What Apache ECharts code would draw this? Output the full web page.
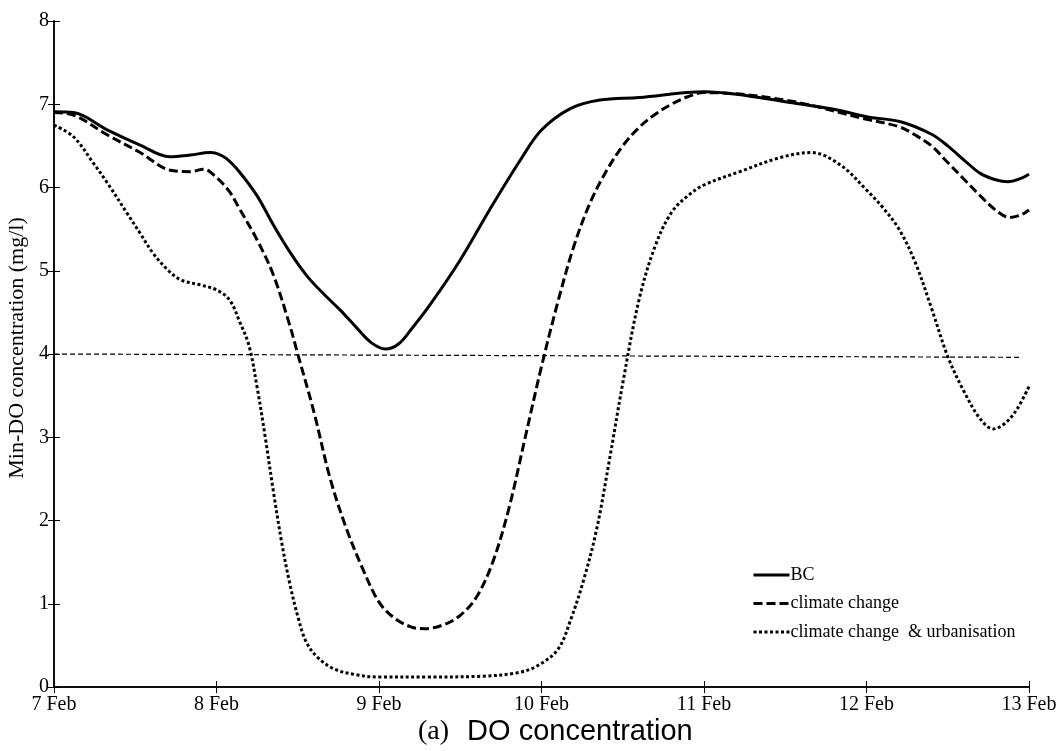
<!DOCTYPE html>
<html>
<head>
<meta charset="utf-8">
<script src="https://cdn.jsdelivr.net/npm/echarts@6/dist/echarts.min.js"></script>
<style>html,body{margin:0;padding:0;background:#fff}#c{width:1061px;height:751px}</style>
</head>
<body>
<div id="c"></div>
<script>
// x values: days after 7 Feb
const xTickLabels = ['7 Feb', '8 Feb', '9 Feb', '10 Feb', '11 Feb', '12 Feb', '13 Feb'];
const seriesNames = ['BC', 'climate change', 'climate change  & urbanisation'];

const bcX = [0, 0.12, 0.33, 0.53, 0.71, 0.84, 0.96, 1.0, 1.06, 1.14, 1.25, 1.35, 1.46, 1.56, 1.66, 1.76, 1.86, 1.95, 2.04, 2.12, 2.2, 2.31, 2.5, 2.68, 2.87, 3.0, 3.18, 3.36, 3.6, 4.0, 4.2, 4.5, 4.8, 5.0, 5.21, 5.4, 5.5, 5.6, 5.7, 5.8, 5.87, 5.95, 6.0];
const bcY = [6.91, 6.9, 6.69, 6.51, 6.37, 6.39, 6.42, 6.41, 6.35, 6.19, 5.9, 5.55, 5.2, 4.93, 4.72, 4.53, 4.32, 4.14, 4.06, 4.12, 4.3, 4.58, 5.13, 5.73, 6.33, 6.69, 6.95, 7.05, 7.08, 7.15, 7.12, 7.03, 6.94, 6.85, 6.79, 6.64, 6.5, 6.33, 6.17, 6.09, 6.07, 6.11, 6.16];

const ccX = [0, 0.12, 0.33, 0.53, 0.71, 0.84, 0.92, 1.0, 1.08, 1.14, 1.25, 1.35, 1.45, 1.5, 1.6, 1.7, 1.8, 1.9, 2.0, 2.1, 2.2, 2.28, 2.4, 2.5, 2.6, 2.7, 2.8, 2.9, 3.0, 3.1, 3.2, 3.3, 3.4, 3.5, 3.6, 3.7, 3.8, 3.9, 4.0, 4.5, 5.0, 5.2, 5.3, 5.4, 5.5, 5.6, 5.7, 5.8, 5.88, 5.95, 6.0];
const ccY = [6.9, 6.87, 6.63, 6.42, 6.21, 6.19, 6.22, 6.12, 5.95, 5.75, 5.37, 4.95, 4.35, 4.0, 3.3, 2.5, 1.9, 1.42, 1.02, 0.82, 0.72, 0.7, 0.75, 0.86, 1.08, 1.5, 2.15, 3.0, 3.85, 4.62, 5.3, 5.82, 6.2, 6.5, 6.72, 6.88, 7.0, 7.09, 7.14, 7.05, 6.82, 6.73, 6.63, 6.5, 6.3, 6.1, 5.9, 5.72, 5.64, 5.67, 5.73];

const cuX = [0, 0.12, 0.24, 0.33, 0.45, 0.53, 0.61, 0.7, 0.78, 0.9, 1.0, 1.08, 1.14, 1.2, 1.25, 1.3, 1.35, 1.4, 1.45, 1.5, 1.55, 1.62, 1.72, 1.85, 2.0, 2.3, 2.64, 2.85, 2.97, 3.1, 3.18, 3.26, 3.34, 3.42, 3.5, 3.6, 3.7, 3.8, 3.9, 4.0, 4.22, 4.47, 4.66, 4.84, 5.0, 5.1, 5.2, 5.3, 5.4, 5.5, 5.6, 5.7, 5.78, 5.86, 5.93, 6.0];
const cuY = [6.75, 6.61, 6.3, 6.05, 5.69, 5.45, 5.21, 5.01, 4.89, 4.83, 4.77, 4.65, 4.4, 4.1, 3.6, 3.0, 2.35, 1.75, 1.25, 0.85, 0.55, 0.36, 0.22, 0.15, 0.12, 0.12, 0.13, 0.17, 0.25, 0.45, 0.81, 1.29, 1.9, 2.75, 3.65, 4.65, 5.3, 5.7, 5.9, 6.03, 6.19, 6.36, 6.42, 6.27, 5.97, 5.76, 5.5, 5.1, 4.55, 3.97, 3.55, 3.22, 3.1, 3.18, 3.35, 3.61];

const thresholdX = [0, 5.95];
const thresholdY = [4.0, 3.96];

const zip = (xs, ys) => xs.map((x, i) => [x, ys[i]]);
const serif = 'Liberation Serif, Times New Roman, serif';

const chart = echarts.init(document.getElementById('c'), null, { renderer: 'canvas' });
const axisLine = { lineStyle: { color: '#000', width: 1.5 } };
const tick = { inside: true, length: 6, lineStyle: { color: '#000', width: 1 } };

chart.setOption({
  animation: false,
  backgroundColor: '#fff',
  title: {
    text: '{a|(a)}{b|DO concentration}',
    left: 413, top: 712,
    textStyle: {
      fontWeight: 'normal',
      rich: {
        a: { fontFamily: serif, fontSize: 28, color: '#000', fontWeight: 'normal' },
        b: { fontFamily: 'Liberation Sans, Arial, sans-serif', fontSize: 29, color: '#000', fontWeight: 'normal', padding: [0, 0, 0, 18] }
      }
    }
  },
  grid: { left: 54, right: 32, top: 21, bottom: 64, outerBoundsMode: 'none', containLabel: false },
  legend: {
    orient: 'vertical',
    left: 747, top: 561,
    itemWidth: 36, itemHeight: 18, itemGap: 10.5,
    data: seriesNames,
    itemStyle: { color: 'rgba(0,0,0,0)', borderColor: 'rgba(0,0,0,0)', borderWidth: 0 },
    lineStyle: { width: 3 },
    textStyle: { fontFamily: serif, fontSize: 18, color: '#000', padding: [0, 0, 0, -4] }
  },
  xAxis: [
    {
      type: 'value', min: 0, max: 6, interval: 1, position: 'bottom',
      axisLine, axisTick: tick, splitLine: { show: false },
      axisLabel: { formatter: v => xTickLabels[Math.round(v)], fontFamily: serif, fontSize: 20, color: '#000', margin: 8 }
    },
    {
      type: 'value', min: 0, max: 6, interval: 1, position: 'top',
      axisLine, axisTick: tick, splitLine: { show: false }, axisLabel: { show: false }
    }
  ],
  yAxis: [
    {
      type: 'value', min: 0, max: 8, interval: 1, position: 'left',
      axisLine, axisTick: tick, splitLine: { show: false },
      axisLabel: { fontFamily: serif, fontSize: 20, color: '#000', margin: 5 },
      name: 'Min-DO concentration (mg/l)', nameLocation: 'middle', nameGap: 24,
      nameTextStyle: { fontFamily: serif, fontSize: 22, color: '#000', padding: [0, 0, 0, 12] }
    },
    {
      type: 'value', min: 0, max: 8, interval: 1, position: 'right',
      axisLine, axisTick: tick, splitLine: { show: false }, axisLabel: { show: false }
    }
  ],
  series: [
    {
      name: seriesNames[0], type: 'line', data: zip(bcX, bcY), smooth: 0.35, symbol: 'none',
      lineStyle: { color: '#000', width: 3, type: 'solid' }, itemStyle: { color: '#000' }
    },
    {
      name: seriesNames[1], type: 'line', data: zip(ccX, ccY), smooth: 0.35, symbol: 'none',
      lineStyle: { color: '#000', width: 3, type: [9, 4] }, itemStyle: { color: '#000' }
    },
    {
      name: seriesNames[2], type: 'line', data: zip(cuX, cuY), smooth: 0.35, symbol: 'none',
      lineStyle: { color: '#000', width: 3, type: [3, 2.5] }, itemStyle: { color: '#000' }
    },
    {
      name: 'threshold', type: 'line', data: zip(thresholdX, thresholdY), symbol: 'none',
      lineStyle: { color: '#000', width: 1.2, type: [5, 3] }, silent: true
    }
  ]
});
</script>
</body>
</html>
